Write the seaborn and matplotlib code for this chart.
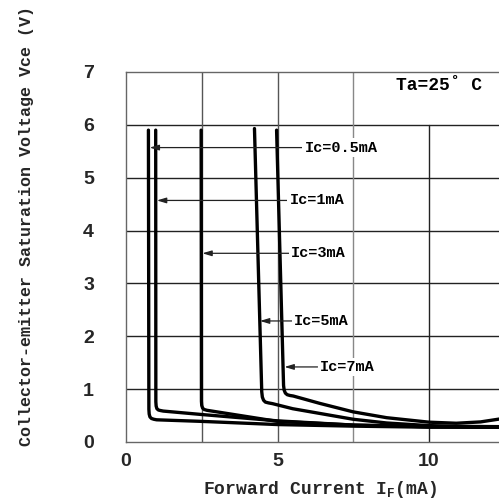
import matplotlib
matplotlib.use("Agg")
import matplotlib.pyplot as plt
import seaborn as sns
import pandas as pd

# ---- data ----
ic_labels = ["Ic=0.5mA", "Ic=1mA", "Ic=3mA", "Ic=5mA", "Ic=7mA"]
if_05 = [0.74, 0.755, 0.765, 0.79, 0.84, 0.92, 1.01, 2.5, 5.0, 7.5, 10.0, 12.5]
vce_05 = [5.9, 0.62, 0.53, 0.475, 0.445, 0.43, 0.42, 0.39, 0.33, 0.30, 0.28, 0.28]
if_1 = [0.98, 0.985, 0.995, 1.02, 1.07, 1.14, 1.23, 2.5, 5.0, 7.5, 10.0, 12.5]
vce_1 = [5.9, 0.76, 0.68, 0.63, 0.605, 0.595, 0.585, 0.52, 0.40, 0.32, 0.29, 0.28]
if_3 = [2.48, 2.49, 2.50, 2.53, 2.58, 2.67, 2.78, 5.0, 7.5, 10.0, 12.5]
vce_3 = [5.9, 0.77, 0.69, 0.64, 0.615, 0.60, 0.59, 0.39, 0.32, 0.29, 0.28]
if_5 = [4.24, 4.48, 4.50, 4.54, 4.60, 4.70, 4.84, 5.5, 6.4, 7.5, 8.6, 10.0, 11.2, 12.5]
vce_5 = [5.93, 0.95, 0.85, 0.79, 0.755, 0.74, 0.725, 0.63, 0.54, 0.43, 0.36, 0.31, 0.295, 0.29]
if_7 = [4.97, 5.20, 5.22, 5.26, 5.32, 5.41, 5.52, 6.4, 7.5, 8.6, 10.0, 10.9, 11.7, 12.5]
vce_7 = [5.9, 1.07, 0.98, 0.925, 0.895, 0.88, 0.87, 0.73, 0.57, 0.46, 0.375, 0.355, 0.38, 0.45]

# annotation: arrow tip (x, y) and text start x
ann_tip_x = [0.78, 1.02, 2.52, 4.42, 5.23]
ann_y = [5.57, 4.57, 3.57, 2.29, 1.42]
ann_text_x = [5.9, 5.4, 5.45, 5.55, 6.4]

x_ticks = [0, 5, 10]
y_ticks = [0, 1, 2, 3, 4, 5, 6, 7]

series = [(if_05, vce_05), (if_1, vce_1), (if_3, vce_3), (if_5, vce_5), (if_7, vce_7)]
rows = []
for lab, (xs, ys) in zip(ic_labels, series):
    for i, (x, y) in enumerate(zip(xs, ys)):
        rows.append({"Ic": lab, "order": i, "If": x, "Vce": y})
df = pd.DataFrame(rows)

sns.set_theme(style="white")
plt.rcParams["font.family"] = ["Liberation Mono", "DejaVu Sans"]

fig = plt.figure(figsize=(4.99, 5.03), dpi=100)
W, H = 499, 503
x0, x1 = 126, 126 + 12.5 * 30.3
y0, y1 = 442, 72
ax = fig.add_axes([x0 / W, (H - y0) / H, (x1 - x0) / W, (y0 - y1) / H])
ax.set_xlim(0, 12.5)
ax.set_ylim(0, 7)

# grid
for yv in [1, 2, 3, 4, 5, 6]:
    ax.axhline(yv, color="#222222", lw=1.0, zorder=1)
ax.axvline(2.5, color="#555555", lw=1.0, zorder=1)
ax.axvline(5.0, color="#555555", lw=1.0, zorder=1)
ax.axvline(7.5, color="#888888", lw=1.0, zorder=1)
ax.axvline(10.0, ymin=0, ymax=6 / 7, color="#222222", lw=1.0, zorder=1)

sns.lineplot(data=df, x="If", y="Vce", units="Ic", estimator=None, sort=False,
             color="black", lw=2.4, legend=False, ax=ax, zorder=3)
for ln in ax.lines:
    ln.set_solid_joinstyle("round")

for lab, tx, ty, sx in zip(ic_labels, ann_tip_x, ann_y, ann_text_x):
    ax.annotate(lab, xy=(tx, ty), xytext=(sx, ty), ha="left", va="center",
                fontsize=11, fontweight="bold", color="black", zorder=5,
                bbox=dict(boxstyle="square,pad=0.15", fc="white", ec="none"),
                arrowprops=dict(arrowstyle="-|>,head_length=0.5,head_width=0.15",
                                color="#222222", lw=0.9, shrinkA=0, shrinkB=0))

ax.text(10.32, 6.75, "Ta=25\u02da C", ha="center", va="center", fontsize=13,
        fontweight="bold", color="black", zorder=5)

tick_font = ["Liberation Sans Narrow", "Liberation Sans", "DejaVu Sans"]
ax.set_xticks(x_ticks)
ax.set_xticklabels([str(v) for v in x_ticks], fontsize=14, fontweight="bold",
                   family=tick_font)
ax.set_yticks(y_ticks)
ax.set_yticklabels([str(v) for v in y_ticks], fontsize=14, fontweight="bold",
                   family=tick_font)
ax.tick_params(axis="x", length=0, pad=8)
ax.tick_params(axis="y", length=0, pad=23)

ax.set_xlabel("Forward Current I$_{\\mathregular{F}}$(mA)", fontsize=13,
              fontweight="bold")
ax.xaxis.set_label_coords((320 - x0) / (x1 - x0), -(490 - y0) / (y0 - y1))
ax.set_ylabel("Collector-emitter Saturation Voltage Vce (V)", fontsize=12,
              fontweight="bold")
ax.yaxis.set_label_coords((27 - x0) / (x1 - x0), (y0 - 226) / (y0 - y1))
ax.xaxis.label.set_va("center")
ax.yaxis.label.set_va("center")

for side in ["left", "top", "bottom"]:
    ax.spines[side].set_color("#666666")
    ax.spines[side].set_linewidth(1.0)
ax.spines["right"].set_visible(False)

fig.savefig("out.png", dpi=100)
